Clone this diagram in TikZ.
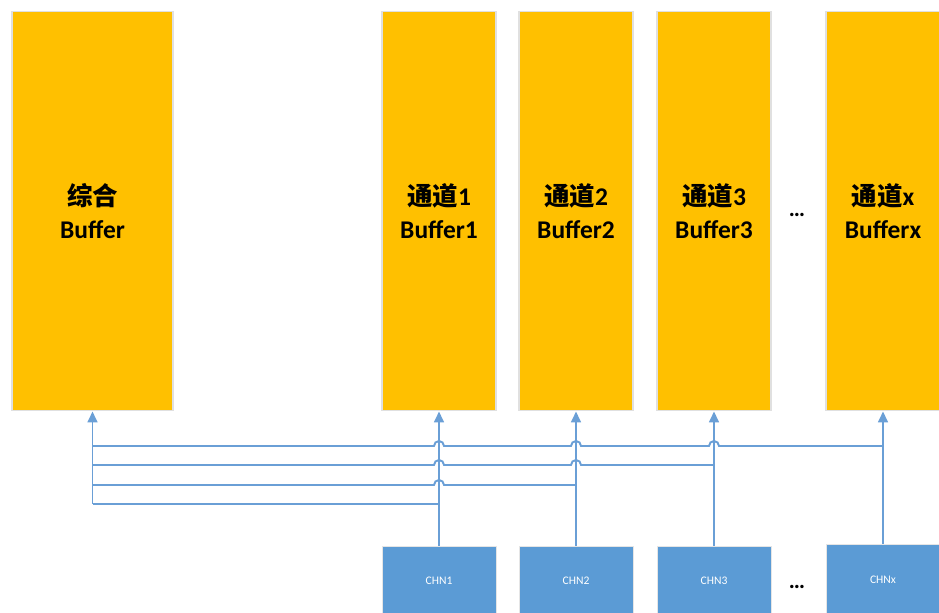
\documentclass[tikz,border=0pt]{standalone}
\usepackage{fontspec}
\setmainfont{Carlito}
\newfontfamily\cjk{Noto Sans CJK SC Bold}
\usetikzlibrary{positioning,arrows.meta,calc}
\definecolor{bufgold}{HTML}{FFC000}
\definecolor{chnblue}{HTML}{5B9BD5}
\definecolor{wireblue}{HTML}{6A9FD6}
\tikzset{
  buf/.style  = {fill=bufgold, draw=black!12, line width=0.6pt, align=center,
                 minimum height=8cm, inner sep=0pt,
                 font=\bfseries\fontsize{14.5}{19}\selectfont},
  chn/.style  = {fill=chnblue, draw=black!10, line width=0.4pt, text=white,
                 minimum width=2.28cm, minimum height=1.4cm, inner sep=0pt,
                 font=\fontsize{6.6}{8}\selectfont},
  wire/.style = {draw=wireblue, line width=1.1pt},
  ar/.style   = {wire, -{Triangle[length=6.2pt, width=5.6pt]}},
  dots/.style = {font=\bfseries\fontsize{13}{15}\selectfont, inner sep=0pt},
}
\begin{document}
\begin{tikzpicture}[x=0.02cm, y=0.02cm]
\useasboundingbox (0,0) rectangle (939,612);

% buffers
\node[buf, minimum width=3.22cm] (total) at (92.5,401) {{\cjk 综合}\\Buffer};
\node[buf, minimum width=2.28cm] (buf1) at (439,401) {{\cjk 通道}1\\Buffer1};
\node[buf, minimum width=2.28cm] (buf2) at (576,401) {{\cjk 通道}2\\Buffer2};
\node[buf, minimum width=2.28cm] (buf3) at (714,401) {{\cjk 通道}3\\Buffer3};
\node[buf, minimum width=2.28cm] (bufx) at (883,401) {{\cjk 通道}x\\Bufferx};
\node[dots] (dtop) at (797,397) {…};

% channels
\node[chn] (chn1) at (439,31) {CHN1};
\node[chn] (chn2) at (576,31) {CHN2};
\node[chn] (chn3) at (714,31) {CHN3};
\node[chn, minimum height=1.44cm] (chnx) at (883,32) {CHNx};
\node[dots] (dbot) at (797,25) {…};

% rows into the total buffer
\coordinate (rowx) at (92.5,166);
\coordinate (row3) at (92.5,147);
\coordinate (row2) at (92.5,127);
\coordinate (row1) at (92.5,108);

\draw[ar] (chn1) -- (buf1);
\draw[ar] (chn2) -- (buf2);
\draw[ar] (chn3) -- (buf3);
\draw[ar] (chnx) -- (bufx);

\draw[wire] (chnx |- rowx) -- ($(chn3 |- rowx)+(5,0)$) arc[start angle=0, end angle=180, radius=5]
  -- ($(chn2 |- rowx)+(5,0)$) arc[start angle=0, end angle=180, radius=5]
  -- ($(chn1 |- rowx)+(5,0)$) arc[start angle=0, end angle=180, radius=5] -- (rowx);
\draw[wire] (chn3 |- row3) -- ($(chn2 |- row3)+(5,0)$) arc[start angle=0, end angle=180, radius=5]
  -- ($(chn1 |- row3)+(5,0)$) arc[start angle=0, end angle=180, radius=5] -- (row3);
\draw[wire] (chn2 |- row2) -- ($(chn1 |- row2)+(5,0)$) arc[start angle=0, end angle=180, radius=5] -- (row2);
\draw[wire] (chn1 |- row1) -- (row1);
\draw[ar] (row1) -- (total);
\end{tikzpicture}
\end{document}
